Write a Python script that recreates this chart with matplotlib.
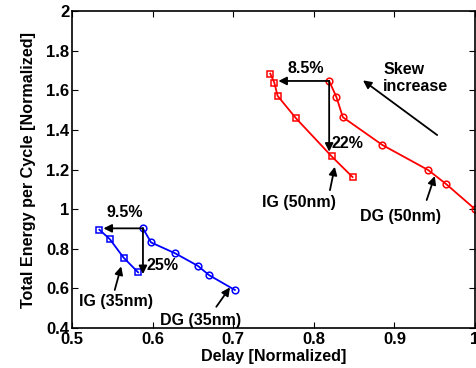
import matplotlib
matplotlib.use("Agg")
import matplotlib.pyplot as plt

plt.rcParams['font.family'] = ['Liberation Sans', 'DejaVu Sans']
plt.rcParams['font.weight'] = 'bold'

# DG / IG curves, 35nm (blue) and 50nm (red)
dg35_delay = [0.588, 0.598, 0.628, 0.656, 0.670, 0.702]
dg35_energy = [0.903, 0.832, 0.777, 0.714, 0.667, 0.592]
ig35_delay = [0.534, 0.547, 0.564, 0.582]
ig35_energy = [0.896, 0.848, 0.755, 0.681]

dg50_delay = [0.819, 0.828, 0.836, 0.885, 0.942, 0.964, 1.0]
dg50_energy = [1.647, 1.566, 1.464, 1.324, 1.197, 1.127, 1.0]
ig50_delay = [0.746, 0.751, 0.755, 0.778, 0.822, 0.848]
ig50_energy = [1.684, 1.638, 1.572, 1.458, 1.267, 1.162]

x_ticks = [0.5, 0.6, 0.7, 0.8, 0.9, 1.0]
x_labels = ['0.5', '0.6', '0.7', '0.8', '0.9', '1']
y_ticks = [0.4, 0.6, 0.8, 1.0, 1.2, 1.4, 1.6, 1.8, 2.0]
y_labels = ['0.4', '0.6', '0.8', '1', '1.2', '1.4', '1.6', '1.8', '2']

fig = plt.figure(figsize=(4.76, 3.68), dpi=100)
ax = fig.add_axes([0.1513, 0.1087, 0.8467, 0.8613])

lw = 1.3
ax.plot(dg35_delay, dg35_energy, color='blue', lw=lw, marker='o', ms=4.8, mfc='none', mew=1.1)
ax.plot(ig35_delay, ig35_energy, color='blue', lw=lw, marker='s', ms=4.2, mfc='none', mew=1.1)
ax.plot(dg50_delay, dg50_energy, color='red', lw=lw, marker='o', ms=4.8, mfc='none', mew=1.1)
ax.plot(ig50_delay, ig50_energy, color='red', lw=lw, marker='s', ms=4.2, mfc='none', mew=1.1)

ax.set_xlim(0.5, 1.0)
ax.set_ylim(0.4, 2.0)
ax.set_xticks(x_ticks)
ax.set_xticklabels(x_labels)
ax.set_yticks(y_ticks)
ax.set_yticklabels(y_labels)
ax.tick_params(direction='in', top=True, right=True, labelsize=12, length=4, width=0.8)
ax.tick_params(axis='x', pad=3)
ax.tick_params(axis='y', pad=2)
for s in ax.spines.values():
    s.set_linewidth(1.2)

ax.set_xlabel('Delay [Normalized]', fontsize=11.6, fontweight='bold', labelpad=1)
ax.set_ylabel('Total Energy per Cycle [Normalized]', fontsize=11.6, fontweight='bold', labelpad=7)

arr = dict(arrowstyle='-|>', color='k', lw=1.3, mutation_scale=12, shrinkA=0, shrinkB=0)

def arrow(x0, y0, x1, y1):
    ax.annotate('', xy=(x1, y1), xytext=(x0, y0), arrowprops=arr)

fs = 11.5

# 35nm improvement arrows
arrow(dg35_delay[0], dg35_energy[0], 0.539, dg35_energy[0])
arrow(dg35_delay[0], dg35_energy[0], dg35_delay[0], 0.672)
ax.text(0.566, 0.984, '9.5%', fontsize=fs, ha='center', va='center')
ax.text(0.592, 0.714, '25%', fontsize=fs, ha='left', va='center')

# 50nm improvement arrows
arrow(dg50_delay[0], dg50_energy[0], 0.756, dg50_energy[0])
arrow(dg50_delay[0], dg50_energy[0], dg50_delay[0], 1.29)
ax.text(0.79, 1.71, '8.5%', fontsize=fs, ha='center', va='center')
ax.text(0.822, 1.33, '22%', fontsize=fs, ha='left', va='center')

# skew arrow
arrow(0.953, 1.374, 0.861, 1.65)
ax.text(0.886, 1.66, 'Skew\nincrease', fontsize=fs, ha='left', va='center', linespacing=1.15)

# curve labels
arrow(0.553, 0.592, 0.561, 0.711)
ax.text(0.555, 0.534, 'IG (35nm)', fontsize=fs, ha='center', va='center')
arrow(0.679, 0.507, 0.696, 0.605)
ax.text(0.660, 0.44, 'DG (35nm)', fontsize=fs, ha='center', va='center')
arrow(0.820, 1.096, 0.826, 1.214)
ax.text(0.781, 1.034, 'IG (50nm)', fontsize=fs, ha='center', va='center')
arrow(0.940, 1.046, 0.950, 1.167)
ax.text(0.908, 0.964, 'DG (50nm)', fontsize=fs, ha='center', va='center')

fig.savefig('out.png', dpi=100)
